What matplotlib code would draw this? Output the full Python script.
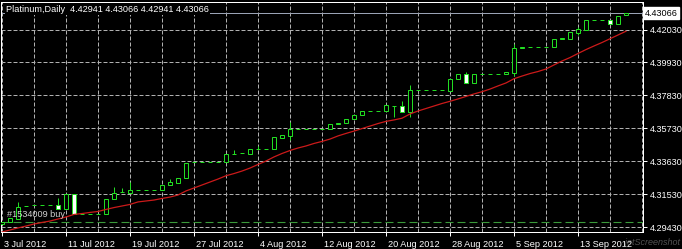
import pandas as pd
import matplotlib
matplotlib.use("Agg")
import matplotlib.pyplot as plt
from matplotlib.transforms import blended_transform_factory

# daily bars, Platinum, from 3 Jul 2012
start_date = "2012-07-03"

opens = [4.2959, 4.2977, 4.2994, 4.3074, 4.3081, 4.3081, 4.3081, 4.3083, 4.3056, 4.3152,
         4.3029, 4.3029, 4.3029, 4.3029, 4.3122, 4.3164, 4.3163, 4.3182, 4.3182, 4.3182,
         4.3182, 4.3208, 4.3226, 4.3254, 4.3360, 4.3360, 4.3360, 4.3360, 4.3360, 4.3409,
         4.3412, 4.3411, 4.3441, 4.3441, 4.3439, 4.3513, 4.3525, 4.3568, 4.3568, 4.3568,
         4.3568, 4.3566, 4.3600, 4.3605, 4.3630, 4.3656, 4.3681, 4.3681, 4.3680, 4.3717,
         4.3717, 4.3675, 4.3815, 4.3815, 4.3815, 4.3815, 4.3811, 4.3885, 4.3917, 4.3864,
         4.3917, 4.3917, 4.3917, 4.3917, 4.3926, 4.4085, 4.4091, 4.4091, 4.4091, 4.4090,
         4.4141, 4.4144, 4.4183, 4.4202, 4.4262, 4.4262, 4.4262, 4.4240, 4.42941]

highs = [4.2978, 4.2999, 4.3104, 4.3080, 4.3081, 4.3081, 4.3081, 4.3130, 4.3152, 4.3152,
         4.3029, 4.3029, 4.3029, 4.3122, 4.3200, 4.3194, 4.3228, 4.3182, 4.3182, 4.3182,
         4.3211, 4.3249, 4.3254, 4.3353, 4.3360, 4.3360, 4.3360, 4.3360, 4.3407, 4.3432,
         4.3412, 4.3439, 4.3458, 4.3441, 4.3515, 4.3528, 4.3613, 4.3568, 4.3568, 4.3568,
         4.3568, 4.3598, 4.3607, 4.3630, 4.3656, 4.3683, 4.3681, 4.3681, 4.3719, 4.3717,
         4.3747, 4.3849, 4.3815, 4.3815, 4.3815, 4.3815, 4.3885, 4.3917, 4.3932, 4.3917,
         4.3917, 4.3917, 4.3917, 4.3930, 4.4113, 4.4090, 4.4091, 4.4091, 4.4091, 4.4141,
         4.4147, 4.4187, 4.4219, 4.4262, 4.4262, 4.4262, 4.4262, 4.4287, 4.43066]

lows = [4.2959, 4.2977, 4.2994, 4.3074, 4.3081, 4.3081, 4.3081, 4.3056, 4.3056, 4.3023,
        4.3029, 4.3029, 4.3029, 4.3029, 4.3122, 4.3164, 4.3163, 4.3179, 4.3182, 4.3182,
        4.3182, 4.3208, 4.3226, 4.3254, 4.3360, 4.3360, 4.3360, 4.3360, 4.3360, 4.3409,
        4.3412, 4.3411, 4.3441, 4.3441, 4.3439, 4.3513, 4.3498, 4.3568, 4.3568, 4.3568,
        4.3568, 4.3566, 4.3600, 4.3605, 4.3630, 4.3656, 4.3681, 4.3681, 4.3680, 4.3647,
        4.3675, 4.3647, 4.3815, 4.3815, 4.3815, 4.3815, 4.3811, 4.3885, 4.3864, 4.3864,
        4.3917, 4.3917, 4.3917, 4.3917, 4.3906, 4.4085, 4.4091, 4.4091, 4.4091, 4.4090,
        4.4141, 4.4144, 4.4166, 4.4202, 4.4262, 4.4262, 4.4240, 4.4240, 4.42941]

closes = [4.2978, 4.2999, 4.3069, 4.3080, 4.3081, 4.3081, 4.3081, 4.3056, 4.3152, 4.3023,
          4.3029, 4.3029, 4.3029, 4.3122, 4.3162, 4.3164, 4.3178, 4.3179, 4.3182, 4.3182,
          4.3211, 4.3228, 4.3254, 4.3353, 4.3360, 4.3360, 4.3360, 4.3360, 4.3407, 4.3409,
          4.3412, 4.3439, 4.3441, 4.3441, 4.3515, 4.3528, 4.3568, 4.3568, 4.3568, 4.3568,
          4.3568, 4.3598, 4.3607, 4.3630, 4.3656, 4.3683, 4.3681, 4.3681, 4.3719, 4.3717,
          4.3675, 4.3815, 4.3815, 4.3815, 4.3815, 4.3815, 4.3885, 4.3917, 4.3864, 4.3917,
          4.3917, 4.3917, 4.3917, 4.3930, 4.4085, 4.4090, 4.4091, 4.4091, 4.4091, 4.4141,
          4.4147, 4.4187, 4.4204, 4.4262, 4.4262, 4.4262, 4.4240, 4.4287, 4.43066]

# moving average (red line)
ma = [4.2911, 4.2924, 4.2937, 4.2949, 4.2962, 4.2972, 4.2981, 4.2994, 4.3007, 4.3023,
      4.3029, 4.3036, 4.3042, 4.3055, 4.3067, 4.3077, 4.3087, 4.3103, 4.3109, 4.3115,
      4.3125, 4.3134, 4.3147, 4.3173, 4.3192, 4.3211, 4.3230, 4.3249, 4.3270, 4.3284,
      4.3300, 4.3319, 4.3342, 4.3364, 4.3390, 4.3412, 4.3431, 4.3447, 4.3460, 4.3476,
      4.3489, 4.3504, 4.3524, 4.3540, 4.3555, 4.3571, 4.3587, 4.3603, 4.3617, 4.3626,
      4.3637, 4.3664, 4.3683, 4.3699, 4.3715, 4.3731, 4.3745, 4.3760, 4.3776, 4.3792,
      4.3806, 4.3823, 4.3843, 4.3862, 4.3889, 4.3906, 4.3922, 4.3935, 4.3951, 4.3977,
      4.4002, 4.4024, 4.4050, 4.4075, 4.4098, 4.4120, 4.4144, 4.4168, 4.4192]

price_ticks = [4.29430, 4.31530, 4.33630, 4.35730, 4.37830, 4.39930, 4.42030]
order_price = 4.2975
order_label = "#1534009 buy"
bid = 4.43066
title = "Platinum,Daily  4.42941 4.43066 4.42941 4.43066"

green = "#22dd22"
fs = 6.6
plt.rcParams["font.family"] = ["Liberation Sans", "DejaVu Sans"]

dates = pd.date_range(start_date, periods=len(closes), freq="D")
x = list(range(len(closes)))

fig = plt.figure(figsize=(6.82, 2.49), dpi=100, facecolor="black")
ax = fig.add_axes([1 / 682, 17 / 249, 642 / 682, 230 / 249], facecolor="black")

ax.set_xlim(-0.125, 80.125)
ax.set_ylim(4.29111, 4.43785)

# grid
for p in price_ticks:
    ax.axhline(p, color="#b0b0b0", lw=0.72, dashes=(4, 2), zorder=1)
for i in range(0, 84, 4):
    ax.axvline(i, color="#b0b0b0", lw=0.72, dashes=(4, 2), zorder=1)

# order line and bid line
ax.axhline(order_price, color="#3a9a3a", lw=0.8, dashes=(7.2, 3.6), zorder=1.5)
ax.text(0.6, 4.3020, order_label, color="#d0d0d0", fontsize=fs, va="center", zorder=5)
ax.axhline(bid, color="#9aa3b5", lw=0.72, zorder=1.5)

# candles
ax.vlines(x, lows, highs, color=green, lw=0.72, zorder=2)
bottoms = [min(o, c) for o, c in zip(opens, closes)]
heights = [abs(c - o) for o, c in zip(opens, closes)]
faces = ["black" if c >= o else "white" for o, c in zip(opens, closes)]
ax.bar(x, heights, bottom=bottoms, width=0.5, color=faces, edgecolor=green,
       linewidth=0.72, zorder=3)

# moving average
ax.plot(x, ma, color="#cc1a1a", lw=0.9, zorder=4)

for s in ax.spines.values():
    s.set_color("white")
    s.set_linewidth(0.72)

# price axis on the right
ax.yaxis.tick_right()
ax.set_yticks(price_ticks)
ax.set_yticklabels([f"{p:.5f}" for p in price_ticks])
ax.tick_params(axis="y", colors="white", labelsize=fs, length=3, width=0.72, pad=2)
ax.text(1.003, bid, f"{bid:.5f}", transform=blended_transform_factory(ax.transAxes, ax.transData),
        color="black", fontsize=fs, va="center", ha="left", clip_on=False,
        bbox=dict(facecolor="white", edgecolor="white", pad=1.2))

# time axis
tick_pos = list(range(0, len(closes), 8))
ax.set_xticks(tick_pos)
ax.set_xticklabels([])
ax.tick_params(axis="x", colors="white", length=3, width=0.72)
trans = blended_transform_factory(ax.transData, ax.transAxes)
for i in tick_pos:
    d = dates[i]
    ax.text(i + 0.2, -0.035, f"{d.day} {d:%b %Y}", transform=trans, color="white",
            fontsize=fs, ha="left", va="top", clip_on=False)

fig.text(6 / 682, 1 - 9 / 249, title, color="white", fontsize=fs, va="center", ha="left",
         bbox=dict(facecolor="black", edgecolor="none", pad=0.8))

fig.text(1 - 2 / 682, 2 / 249, "jetScreenshot", color="#888888", fontsize=6.5, style="italic",
         ha="right", va="bottom", alpha=0.6)

fig.savefig("out.png", dpi=100, facecolor="black")
